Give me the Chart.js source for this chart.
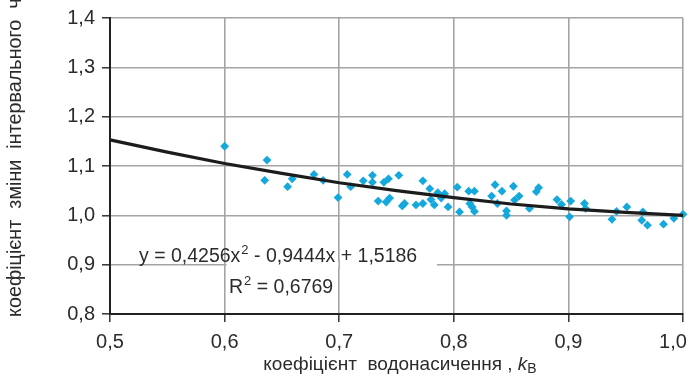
<!DOCTYPE html>
<html>
<head>
<meta charset="utf-8">
<script src="https://cdn.jsdelivr.net/npm/chart.js@4/dist/chart.umd.min.js"></script>
<style>
  html, body { margin: 0; padding: 0; background: #ffffff; }
  #wrap { width: 690px; height: 379px; position: relative; }
</style>
</head>
<body>
<div id="wrap"><canvas id="c" width="690" height="379"></canvas></div>
<script>
// ---- data ----
const kB = [0.600, 0.637, 0.635, 0.655, 0.659, 0.678, 0.686, 0.699, 0.707, 0.710,
            0.721, 0.729, 0.729, 0.734, 0.739, 0.743, 0.741, 0.744, 0.752, 0.755,
            0.757, 0.767, 0.773, 0.773, 0.779, 0.780, 0.783, 0.786, 0.789, 0.792,
            0.795, 0.803, 0.805, 0.813, 0.814, 0.816, 0.818, 0.818, 0.833, 0.836,
            0.838, 0.842, 0.846, 0.846, 0.852, 0.853, 0.857, 0.866, 0.872, 0.874,
            0.890, 0.894, 0.902, 0.901, 0.914, 0.915, 0.938, 0.942, 0.951, 0.964,
            0.965, 0.969, 0.983, 0.992, 1.000];
const kInterval = [1.140, 1.112, 1.071, 1.058, 1.074, 1.083, 1.071, 1.036, 1.083, 1.058,
                   1.070, 1.081, 1.067, 1.029, 1.067, 1.074, 1.027, 1.035, 1.081, 1.019,
                   1.024, 1.021, 1.070, 1.024, 1.054, 1.032, 1.021, 1.046, 1.035, 1.044,
                   1.017, 1.057, 1.007, 1.049, 1.024, 1.017, 1.049, 1.008, 1.039, 1.062,
                   1.024, 1.049, 1.009, 1.000, 1.059, 1.031, 1.039, 1.014, 1.048, 1.056,
                   1.032, 1.022, 1.029, 0.997, 1.024, 1.014, 0.992, 1.008, 1.017, 0.990,
                   1.007, 0.980, 0.982, 0.994, 1.002];
// trend line
const trendX = [0.50, 0.55, 0.60, 0.65, 0.70, 0.75, 0.80, 0.85, 0.90, 0.95, 1.00];
const trendY = [1.153, 1.128, 1.105, 1.085, 1.066, 1.050, 1.036, 1.023, 1.013, 1.006, 1.000];
const xTickValues = [0.5, 0.6, 0.7, 0.8, 0.9, 1.0];
const yTickValues = [0.8, 0.9, 1.0, 1.1, 1.2, 1.3, 1.4];
const equationText = ['y = 0,4256x', '2', ' - 0,9444x + 1,5186'];
const r2Text = ['R', '2', ' = 0,6769'];
const yTitle = 'коефіцієнт  зміни  інтервального  часу';
const xTitle = 'коефіцієнт  водонасичення , ';

const FONT = '"Liberation Sans", Arial, sans-serif';
const TXT = '#2b2b2b';
const GRID = '#a4a4a4';

const fmt = v => v.toFixed(1).replace('.', ',');

const textPlugin = {
  id: 'texts',
  beforeDatasetsDraw(chart) {
    const ctx = chart.ctx;
    const xs = chart.scales.x, ys = chart.scales.y;
    // white background of the equation label hides the horizontal grid line
    const yL = ys.getPixelForValue(0.9);
    const xa = xs.getPixelForValue(0.6) + 2;
    const xb = 437;
    ctx.save();
    ctx.fillStyle = '#ffffff';
    ctx.fillRect(xa, yL - 3, xb - xa, 6);
    const x7 = xs.getPixelForValue(0.7);
    ctx.strokeStyle = GRID;
    ctx.lineWidth = 1.5;
    ctx.beginPath();
    ctx.moveTo(x7, yL - 4);
    ctx.lineTo(x7, yL + 4);
    ctx.stroke();
    // equation
    ctx.fillStyle = TXT;
    ctx.textBaseline = 'alphabetic';
    ctx.textAlign = 'left';
    const big = '19.5px ' + FONT, small = '13px ' + FONT;
    let x = 139, yb = 262;
    ctx.font = big;
    ctx.fillText(equationText[0], x, yb); x += ctx.measureText(equationText[0]).width;
    ctx.font = small;
    ctx.fillText(equationText[1], x + 1, yb - 8); x += ctx.measureText(equationText[1]).width + 1;
    ctx.font = big;
    ctx.fillText(equationText[2], x, yb);
    x = 229; yb = 293;
    ctx.fillText(r2Text[0], x, yb); x += ctx.measureText(r2Text[0]).width;
    ctx.font = small;
    ctx.fillText(r2Text[1], x + 1, yb - 8); x += ctx.measureText(r2Text[1]).width + 1;
    ctx.font = big;
    ctx.fillText(r2Text[2], x, yb);
    ctx.restore();
  },
  afterDraw(chart) {
    const ctx = chart.ctx;
    ctx.save();
    ctx.fillStyle = TXT;
    // y axis title (runs off the top edge as in the reference)
    ctx.translate(16, 317);
    ctx.rotate(-Math.PI / 2);
    ctx.font = '19.8px ' + FONT;
    ctx.textAlign = 'left';
    ctx.textBaseline = 'middle';
    ctx.fillText(yTitle, 0, 0);
    ctx.restore();
    // x axis title
    ctx.save();
    ctx.fillStyle = TXT;
    ctx.textBaseline = 'alphabetic';
    ctx.textAlign = 'left';
    ctx.font = '19px ' + FONT;
    const w1 = ctx.measureText(xTitle).width;
    ctx.font = 'italic 19px ' + FONT;
    const w2 = ctx.measureText('k').width;
    ctx.font = '14px ' + FONT;
    const w3 = ctx.measureText('В').width;
    const total = w1 + w2 + w3;
    let x = 400 - total / 2;
    const yb = 370;
    ctx.font = '19px ' + FONT;
    ctx.fillText(xTitle, x, yb); x += w1;
    ctx.font = 'italic 19px ' + FONT;
    ctx.fillText('k', x, yb); x += w2;
    ctx.font = '14px ' + FONT;
    ctx.fillText('В', x, yb + 3);
    ctx.restore();
  }
};

new Chart(document.getElementById('c'), {
  type: 'scatter',
  data: {
    datasets: [
      {
        type: 'line',
        data: trendX.map((x, i) => ({ x: x, y: trendY[i] })),
        borderColor: '#1c1c1c',
        borderWidth: 3.2,
        pointRadius: 0,
        fill: false,
        tension: 0,
        clip: false
      },
      {
        data: kB.map((x, i) => ({ x: x, y: kInterval[i] })),
        pointStyle: 'rectRot',
        pointRadius: 4.4,
        backgroundColor: '#15a8dd',
        borderColor: '#15a8dd',
        borderWidth: 0,
        clip: false
      }
    ]
  },
  options: {
    responsive: false,
    animation: false,
    events: [],
    layout: { padding: { top: 18, right: 7, left: 0, bottom: 0 } },
    plugins: { legend: { display: false }, tooltip: { enabled: false } },
    scales: {
      x: {
        type: 'linear',
        min: 0.5, max: 1.0,
        afterBuildTicks: s => { s.ticks = xTickValues.map(v => ({ value: v })); },
        afterFit: s => { s.height = 65; s.paddingRight = 0; s.paddingLeft = 0; },
        ticks: {
          color: TXT,
          font: { size: 20, family: FONT },
          padding: 8,
          maxRotation: 0,
          autoSkip: false,
          callback: v => (v === 1 ? fmt(v) + '\u2002\u2002' : fmt(v))
        },
        grid: { color: GRID, lineWidth: 1.6, tickLength: 8, tickColor: '#333', tickWidth: 1.5, drawOnChartArea: true },
        border: { display: true, color: '#222', width: 2 }
      },
      y: {
        type: 'linear',
        min: 0.8, max: 1.4,
        afterBuildTicks: s => { s.ticks = yTickValues.map(v => ({ value: v })); },
        afterFit: s => { s.width = 110; s.paddingTop = 0; s.paddingBottom = 0; },
        ticks: {
          color: TXT,
          font: { size: 20, family: FONT },
          padding: 7,
          autoSkip: false,
          callback: v => fmt(v)
        },
        grid: { color: GRID, lineWidth: 1.6, tickLength: 8, tickColor: '#333', tickWidth: 1.5 },
        border: { display: true, color: '#222', width: 2 }
      }
    }
  },
  plugins: [textPlugin]
});
</script>
</body>
</html>
